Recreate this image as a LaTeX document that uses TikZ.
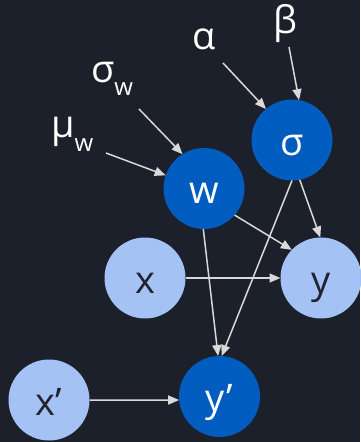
\documentclass[tikz,border=0pt]{standalone}
\usepackage{fontspec}
\setmainfont{Open Sans}
\usetikzlibrary{arrows.meta}
\definecolor{bg}{HTML}{1C202B}
\definecolor{deep}{HTML}{005CBF}
\definecolor{pale}{HTML}{A4C2F4}
\definecolor{ink}{HTML}{1F2430}
\definecolor{edge}{HTML}{D9D9D9}
\newcommand{\subw}[1]{\raisebox{#1}{\fontsize{24}{24}\selectfont w}}
\begin{document}
\begin{tikzpicture}[x=1pt,y=-1pt,
  var/.style={circle, minimum size=81pt, inner sep=0pt, outer sep=0pt,
    font=\fontsize{38}{40}\selectfont, text height=36pt, text depth=6pt},
  latent/.style={var, fill=deep, text=white},
  observed/.style={var, fill=pale, text=ink},
  param/.style={inner sep=0pt, text=white, font=\fontsize{38}{40}\selectfont},
  link/.style={draw=edge, line width=1.5pt, -{Triangle[length=11pt,width=9pt]}},
]
\fill[bg] (0,0) rectangle (360,442);
\useasboundingbox (0,0) rectangle (360,442);

% random variables
\node[latent]   (sig) at (292,140)   {σ};
\node[latent]   (w)   at (204,188.5) {w};
\node[observed] (x)   at (145,278)   {x};
\node[observed] (y)   at (321,278)   {y};
\node[observed] (xp)  at (49,400)    {x’};
\node[latent]   (yp)  at (219.5,396.5) {y’};

% hyperparameters
\node[param, anchor=base] (alpha) at (204,49) {α};
\node[param, anchor=base] (beta)  at (285,33) {β};
\node[param, anchor=base west] (sigw) at (91,82)  {σ\subw{-13pt}};
\node[param, anchor=base west] (muw)  at (51,137) {μ\subw{-14pt}};

% tails of the hyperparameter arrows
\coordinate (ta)  at (223,63);
\coordinate (tb)  at (289,47);
\coordinate (tsw) at (139,109);
\coordinate (tmw) at (106,153);

% dependencies
\draw[link] (ta)  -- (sig.130);
\draw[link] (tb)  -- (sig.80);
\draw[link] (tsw) -- (w.122);
\draw[link] (tmw) -- (w.161);
\draw[link] (w.-41)   -- (y.136);
\draw[link] (sig.-79) -- (y.91);
\draw[link] (sig.-90) -- (yp.87);
\draw[link] (w.-91)   -- (yp.92);
\draw[link] (x.east)  -- (y.west);
\draw[link] (xp.east) -- (yp.185);
\end{tikzpicture}
\end{document}
